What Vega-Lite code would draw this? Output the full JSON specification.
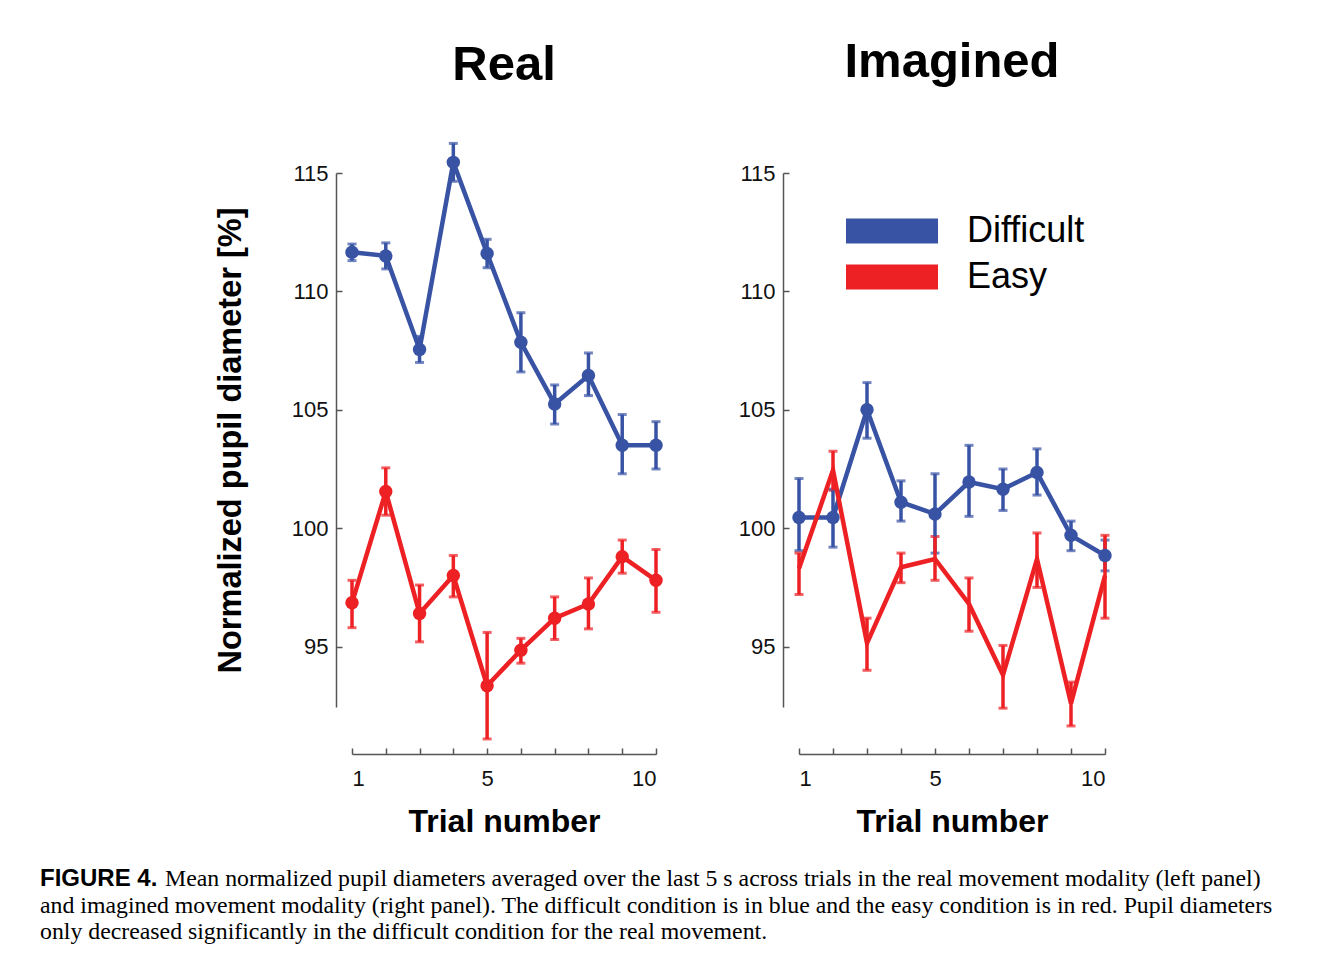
{
  "$schema": "https://vega.github.io/schema/vega-lite/v6.json",
  "background": "white",
  "padding": {"left": 40, "top": 38, "right": 10, "bottom": 10},
  "datasets": {
    "pupil": [
      {"modality": "Real", "condition": "Difficult", "trial": 1, "mean": 111.65, "lo": 111.3, "hi": 112.0},
      {"modality": "Real", "condition": "Difficult", "trial": 2, "mean": 111.5, "lo": 110.95, "hi": 112.05},
      {"modality": "Real", "condition": "Difficult", "trial": 3, "mean": 107.55, "lo": 107.0, "hi": 108.1},
      {"modality": "Real", "condition": "Difficult", "trial": 4, "mean": 115.45, "lo": 114.65, "hi": 116.25},
      {"modality": "Real", "condition": "Difficult", "trial": 5, "mean": 111.6, "lo": 111.0, "hi": 112.2},
      {"modality": "Real", "condition": "Difficult", "trial": 6, "mean": 107.85, "lo": 106.6, "hi": 109.1},
      {"modality": "Real", "condition": "Difficult", "trial": 7, "mean": 105.25, "lo": 104.4, "hi": 106.05},
      {"modality": "Real", "condition": "Difficult", "trial": 8, "mean": 106.45, "lo": 105.6, "hi": 107.4},
      {"modality": "Real", "condition": "Difficult", "trial": 9, "mean": 103.5, "lo": 102.3, "hi": 104.8},
      {"modality": "Real", "condition": "Difficult", "trial": 10, "mean": 103.5, "lo": 102.5, "hi": 104.5},
      {"modality": "Real", "condition": "Easy", "trial": 1, "mean": 96.85, "lo": 95.8, "hi": 97.8},
      {"modality": "Real", "condition": "Easy", "trial": 2, "mean": 101.55, "lo": 100.55, "hi": 102.55},
      {"modality": "Real", "condition": "Easy", "trial": 3, "mean": 96.4, "lo": 95.2, "hi": 97.6},
      {"modality": "Real", "condition": "Easy", "trial": 4, "mean": 98.0, "lo": 97.1, "hi": 98.85},
      {"modality": "Real", "condition": "Easy", "trial": 5, "mean": 93.35, "lo": 91.1, "hi": 95.6},
      {"modality": "Real", "condition": "Easy", "trial": 6, "mean": 94.85, "lo": 94.3, "hi": 95.35},
      {"modality": "Real", "condition": "Easy", "trial": 7, "mean": 96.2, "lo": 95.3, "hi": 97.1},
      {"modality": "Real", "condition": "Easy", "trial": 8, "mean": 96.8, "lo": 95.75, "hi": 97.9},
      {"modality": "Real", "condition": "Easy", "trial": 9, "mean": 98.8, "lo": 98.1, "hi": 99.5},
      {"modality": "Real", "condition": "Easy", "trial": 10, "mean": 97.8, "lo": 96.45, "hi": 99.1},
      {"modality": "Imagined", "condition": "Difficult", "trial": 1, "mean": 100.45, "lo": 99.05, "hi": 102.1},
      {"modality": "Imagined", "condition": "Difficult", "trial": 2, "mean": 100.45, "lo": 99.2, "hi": 101.65},
      {"modality": "Imagined", "condition": "Difficult", "trial": 3, "mean": 105.0, "lo": 103.8, "hi": 106.15},
      {"modality": "Imagined", "condition": "Difficult", "trial": 4, "mean": 101.1, "lo": 100.3, "hi": 102.0},
      {"modality": "Imagined", "condition": "Difficult", "trial": 5, "mean": 100.6, "lo": 98.95, "hi": 102.3},
      {"modality": "Imagined", "condition": "Difficult", "trial": 6, "mean": 101.95, "lo": 100.5, "hi": 103.5},
      {"modality": "Imagined", "condition": "Difficult", "trial": 7, "mean": 101.65, "lo": 100.75, "hi": 102.5},
      {"modality": "Imagined", "condition": "Difficult", "trial": 8, "mean": 102.35, "lo": 101.4, "hi": 103.35},
      {"modality": "Imagined", "condition": "Difficult", "trial": 9, "mean": 99.7, "lo": 99.05, "hi": 100.3},
      {"modality": "Imagined", "condition": "Difficult", "trial": 10, "mean": 98.85, "lo": 98.2, "hi": 99.5},
      {"modality": "Imagined", "condition": "Easy", "trial": 1, "mean": 98.3, "lo": 97.2, "hi": 98.95},
      {"modality": "Imagined", "condition": "Easy", "trial": 2, "mean": 102.45, "lo": 101.6, "hi": 103.25},
      {"modality": "Imagined", "condition": "Easy", "trial": 3, "mean": 95.15, "lo": 94.0, "hi": 96.2},
      {"modality": "Imagined", "condition": "Easy", "trial": 4, "mean": 98.35, "lo": 97.7, "hi": 98.95},
      {"modality": "Imagined", "condition": "Easy", "trial": 5, "mean": 98.7, "lo": 97.8, "hi": 99.65},
      {"modality": "Imagined", "condition": "Easy", "trial": 6, "mean": 96.8, "lo": 95.65, "hi": 97.9},
      {"modality": "Imagined", "condition": "Easy", "trial": 7, "mean": 93.8, "lo": 92.4, "hi": 95.05},
      {"modality": "Imagined", "condition": "Easy", "trial": 8, "mean": 98.7, "lo": 97.5, "hi": 99.8},
      {"modality": "Imagined", "condition": "Easy", "trial": 9, "mean": 92.6, "lo": 91.65, "hi": 93.5},
      {"modality": "Imagined", "condition": "Easy", "trial": 10, "mean": 98.0, "lo": 96.2, "hi": 99.7}
    ],
    "caption": [
      {"line": 1, "part": "label", "text": "FIGURE 4."},
      {"line": 1, "part": "body", "text": "Mean normalized pupil diameters averaged over the last 5 s across trials in the real movement modality (left panel)"},
      {"line": 2, "part": "body", "text": "and imagined movement modality (right panel). The difficult condition is in blue and the easy condition is in red. Pupil diameters"},
      {"line": 3, "part": "body", "text": "only decreased significantly in the difficult condition for the real movement."}
    ]
  },
  "config": {
    "view": {"stroke": null},
    "axis": {
      "grid": false,
      "domainColor": "#555555",
      "domainWidth": 1.5,
      "tickColor": "#555555",
      "tickWidth": 1.5,
      "tickSize": -6,
      "labelFont": "Liberation Sans",
      "labelFontSize": 22,
      "labelColor": "#111111",
      "titleFont": "Liberation Sans",
      "titleFontWeight": "bold",
      "titleFontSize": 32.5,
      "titleColor": "#000000"
    },
    "title": {"font": "Liberation Sans", "fontSize": 49, "fontWeight": "bold", "color": "#000000", "anchor": "middle"}
  },
  "spacing": 30,
  "vconcat": [
    {
      "spacing": 73,
      "resolve": {"scale": {"color": "independent", "fill": "independent"}, "legend": {"color": "independent", "fill": "independent"}},
      "hconcat": [
        {
          "width": 304,
          "height": 534,
          "title": {"text": "Real", "offset": 52},
          "data": {"name": "pupil"},
          "transform": [{"filter": "datum.modality === 'Real'"}],
          "encoding": {
            "x": {"field": "trial", "type": "quantitative", "scale": {"domain": [1, 10], "nice": false},
              "axis": {"values": [1, 2, 3, 4, 5, 6, 7, 8, 9, 10], "labelExpr": "datum.value == 1 || datum.value == 5 || datum.value == 10 ? datum.label : ''", "offset": 47, "labelPadding": 20, "title": "Trial number", "titleFontSize": 32, "titlePadding": 17}},
            "color": {"field": "condition", "type": "nominal", "scale": {"range": ["#3953a4", "#ed2024"]}, "legend": null}
          },
          "layer": [
            {
              "mark": {"type": "errorbar", "thickness": 3.5, "ticks": {"size": 9, "thickness": 3}},
              "encoding": {
                "y": {"field": "lo", "type": "quantitative", "scale": {"domain": [92.45, 115], "nice": false, "zero": false},
                  "axis": {"values": [95, 100, 105, 110, 115], "offset": 16, "labelPadding": 14, "title": "Normalized pupil diameter [%]", "titlePadding": 44}},
                "y2": {"field": "hi"}
              }
            },
            {"mark": {"type": "line", "strokeWidth": 4.5}, "encoding": {"y": {"field": "mean", "type": "quantitative"}}},
            {"mark": {"type": "circle", "size": 180, "opacity": 1}, "encoding": {"y": {"field": "mean", "type": "quantitative"}}}
          ]
        },
        {
          "width": 306,
          "height": 534,
          "title": {"text": "Imagined", "offset": 75},
          "data": {"name": "pupil"},
          "transform": [{"filter": "datum.modality === 'Imagined'"}],
          "encoding": {
            "x": {"field": "trial", "type": "quantitative", "scale": {"domain": [1, 10], "nice": false},
              "axis": {"values": [1, 2, 3, 4, 5, 6, 7, 8, 9, 10], "labelExpr": "datum.value == 1 || datum.value == 5 || datum.value == 10 ? datum.label : ''", "offset": 47, "labelPadding": 20, "title": "Trial number", "titleFontSize": 32, "titlePadding": 17}},
            "color": {"field": "condition", "type": "nominal", "scale": {"range": ["#3953a4", "#ed2024"]}, "legend": null}
          },
          "layer": [
            {
              "mark": {"type": "errorbar", "thickness": 3.5, "ticks": {"size": 9, "thickness": 3}},
              "encoding": {
                "y": {"field": "lo", "type": "quantitative", "scale": {"domain": [92.45, 115], "nice": false, "zero": false},
                  "axis": {"values": [95, 100, 105, 110, 115], "offset": 16, "labelPadding": 14, "title": null}},
                "y2": {"field": "hi"}
              }
            },
            {"mark": {"type": "line", "strokeWidth": 4.5}, "encoding": {"y": {"field": "mean", "type": "quantitative"}}},
            {
              "transform": [{"filter": "datum.condition === 'Difficult'"}],
              "mark": {"type": "circle", "size": 180, "opacity": 1},
              "encoding": {
                "y": {"field": "mean", "type": "quantitative"},
                "fill": {"field": "condition", "type": "nominal", "scale": {"domain": ["Difficult", "Easy"], "range": ["#3953a4", "#ed2024"]},
                  "legend": {
                    "orient": "none", "legendX": 47, "legendY": 35, "title": null, "padding": 0,
                    "symbolType": "M-1,-0.272L1,-0.272L1,0.272L-1,0.272Z", "symbolSize": 8464,
                    "symbolStrokeWidth": 0, "symbolOpacity": 1,
                    "labelFont": "Liberation Sans", "labelFontSize": 36, "labelColor": "#000000", "labelOffset": 29,
                    "clipHeight": 46, "rowPadding": 0
                  }}
              }
            }
          ]
        }
      ]
    },
    {
      "width": 1000,
      "height": 79.5,
      "data": {"name": "caption"},
      "encoding": {
        "x": {"datum": 0, "type": "quantitative", "scale": {"domain": [0, 1]}, "axis": null},
        "y": {"field": "line", "type": "ordinal", "scale": {"type": "point", "padding": 0.5}, "axis": null},
        "text": {"field": "text"}
      },
      "layer": [
        {"transform": [{"filter": "datum.part === 'label'"}], "mark": {"type": "text", "align": "left", "baseline": "alphabetic", "dx": -312, "font": "Liberation Sans", "fontWeight": "bold", "fontSize": 24, "color": "#000000"}},
        {"transform": [{"filter": "datum.part === 'body' && datum.line === 1"}], "mark": {"type": "text", "align": "left", "baseline": "alphabetic", "dx": -187, "font": "Liberation Serif", "fontSize": 23.8, "color": "#000000"}},
        {"transform": [{"filter": "datum.part === 'body' && datum.line > 1"}], "mark": {"type": "text", "align": "left", "baseline": "alphabetic", "dx": -312, "font": "Liberation Serif", "fontSize": 23.8, "color": "#000000"}}
      ]
    }
  ]
}
